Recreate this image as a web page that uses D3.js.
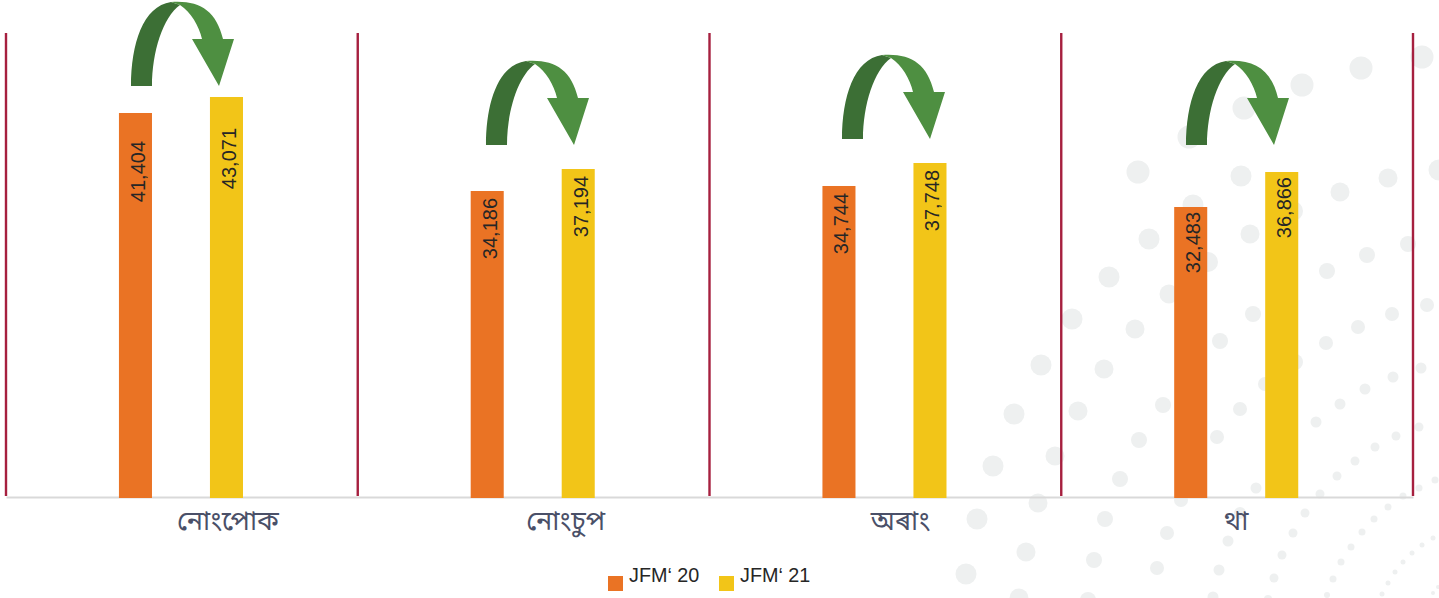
<!DOCTYPE html>
<html>
<head>
<meta charset="utf-8">
<script src="https://cdn.jsdelivr.net/npm/d3@7"></script>
<style>
  html, body { margin: 0; padding: 0; background: #fff; overflow: hidden; }
  svg { display: block; }
  .value { font-family: "Liberation Sans", Arial, sans-serif; font-size: 20px; fill: #262626; }
  .legend-label { font-family: "Liberation Sans", Arial, sans-serif; font-size: 19.8px; fill: #262626; }
  .cat text { font-family: "Noto Sans Bengali", "Noto Sans", "Lato", "DejaVu Sans", sans-serif; font-size: 27px; fill: #4a5068; }
</style>
</head>
<body>
<script>
// chart values
const categories = ["নোংপোক", "নোংচুপ", "অৰাং", "থা"]
const seriesNames = ["JFM‘ 20", "JFM‘ 21"]
const jfm20 = [41404, 34186, 34744, 32483]
const jfm21 = [43071, 37194, 37748, 36866]
const seriesValues = [jfm20, jfm21]
const seriesColors = ["#ea7324", "#f2c518"]

// every panel of the original has its own hidden value axis
const axisMin = [1404, -7652, -5878, -3835]
const axisMax = [49737, 55788, 54728, 54274]

// the labels were placed by hand in the original, off the panel centre
const labelShift = [46, 32, 15, -1]

// value label distance below the bar top
const labelGap = [[28, 7, 7, 5], [31, 7, 7, 5]]

// arrow top left corners
const arrowX = [131, 486, 842, 1186]
const arrowY = [2, 61, 55, 61]

// background decoration: x, y, r
const dots = [
  [1361,68,11.5],[1422,57,11.5],[1302,85,11.5],[1244,108,11.5],[1189,137,11.5],[1138,172,11.5],
  [1241,176,10.5],[1388,178,9.5],[1340,192,9.5],[1439,170,10.5],[1193,205,10.5],[1149,239,10.5],
  [1250,234,9.5],[1293,211,10],[1408,244,8],[1367,255,8],[1327,271,8],[1208,262,10],[1109,277,10.5],
  [1169,294,9.5],[1427,305,7],[1392,314,7],[1358,327,7],[1253,314,8],[1072,319,10.5],[1135,329,9.5],
  [1220,341,8],[1326,343,7],[1041,365,10.5],[1104,369,9.5],[1421,368,5.5],[1393,377,5.5],[1365,389,5.5],
  [1295,362,8],[1265,384,7],[1340,404,5.5],[1014,414,10.5],[1078,411,9.5],[1163,405,8],[1240,409,7],
  [1316,422,5.5],[1419,427,4.5],[1396,436,4.5],[1375,447,4.5],[1217,437,7],[1139,440,8],[1355,461,4.5],
  [1337,476,4.5],[993,466,10.5],[1055,456,9.5],[1120,479,8],[1256,488,5.5],[1419,488,3.5],[1435,480,3.5],
  [1320,494,4.5],[1403,496,3.5],[1388,507,3.5],[1181,500,7],[1038,503,9.5],[977,519,10.5],[1105,519,8],
  [1305,513,4.5],[1374,519,3.5],[1240,513,6],[1362,532,3.5],[1293,533,4.5],[1167,533,7],[1351,547,3.5],
  [1433,538,2.5],[1422,545,2.5],[1228,541,5.5],[1412,553,2.5],[1282,555,4.5],[1026,552,9.5],[1094,560,8],
  [1341,562,3.5],[1403,562,2.5],[1157,568,7],[1219,570,5.5],[966,574,10.5],[1395,572,2.5],[1274,578,4.5],
  [1333,579,3.5],[1388,583,2.5],[1438,587,2],[1382,594,2.5],[1433,593,2],[1327,595,3],[1213,597,5.5],
  [1268,599,4],[1088,600,8],[1019,598,9.5]
]

const svgWidth = 1439
const svgHeight = 598
const plotTop = 33
const plotBottom = 497
const plotLeft = 6
const plotRight = 1413

const svg = d3.select("body").append("svg")
  .attr("width", svgWidth)
  .attr("height", svgHeight)

svg.append("g").selectAll("circle")
  .data(dots)
  .enter().append("circle")
  .attr("cx", d => d[0])
  .attr("cy", d => d[1])
  .attr("r", d => d[2])
  .attr("fill", "#eef0f0")

// scales
const x0 = d3.scaleBand()
  .domain(categories)
  .range([plotLeft, plotRight])

const x1 = d3.scaleBand()
  .domain(seriesNames)
  .range([0, x0.bandwidth()])
  .paddingInner(0.637)
  .paddingOuter(1.251)
  .align(0.496)

const yScales = categories.map((c, i) => d3.scaleLinear()
  .domain([axisMin[i], axisMax[i]])
  .range([plotBottom, plotTop]))

// category axis
const xAxis = d3.axisBottom(x0).tickSize(0).tickPadding(14)

const axisG = svg.append("g")
  .attr("class", "cat")
  .attr("transform", "translate(0," + plotBottom + ")")
  .call(xAxis)

axisG.select(".domain").attr("stroke", "#d9d9d9").attr("stroke-width", 2)
axisG.selectAll("text").attr("dx", (d, i) => labelShift[i])

// panel separators
svg.append("g").selectAll("line")
  .data(d3.range(categories.length + 1))
  .enter().append("line")
  .attr("x1", d => plotLeft + d * x0.step())
  .attr("x2", d => plotLeft + d * x0.step())
  .attr("y1", plotTop)
  .attr("y2", plotBottom - 1)
  .attr("stroke", "#a6203f")
  .attr("stroke-width", 2.4)

// bars
const groups = svg.append("g").selectAll("g")
  .data(categories)
  .enter().append("g")
  .attr("transform", d => "translate(" + x0(d) + ",0)")

groups.each(function(cat, i) {
  const g = d3.select(this)
  const rows = seriesNames.map((name, j) => ({ name: name, value: seriesValues[j][i], color: seriesColors[j], gap: labelGap[j][i] }))

  g.selectAll("rect")
    .data(rows)
    .enter().append("rect")
    .attr("x", d => x1(d.name))
    .attr("y", d => yScales[i](d.value))
    .attr("width", x1.bandwidth())
    .attr("height", d => plotBottom - yScales[i](d.value) + 1)
    .attr("fill", d => d.color)

  g.selectAll("text")
    .data(rows)
    .enter().append("text")
    .attr("class", "value")
    .attr("text-anchor", "end")
    .attr("dy", "0.35em")
    .attr("transform", d => "translate(" + (x1(d.name) + x1.bandwidth() / 2 + 2.5) + "," + (yScales[i](d.value) + d.gap) + ") rotate(-90)")
    .text(d => d3.format(",")(d.value))
})

// curved arrows, two pieces each
const arrows = svg.append("g").selectAll("g")
  .data(arrowX)
  .enter().append("g")
  .attr("transform", (d, i) => "translate(" + d + "," + arrowY[i] + ")")

arrows.append("path")
  .attr("d", "M0,84 C0,42 12,4 40,0 L49,3 C32,15 21,50 21,84 Z")
  .attr("fill", "#3c6f35")

arrows.append("path")
  .attr("d", "M40,0 C68,-2 85,8 92,37 L103,37 L88,84 L61,37 L71,37 C68,24 60,10 49,3 Z")
  .attr("fill", "#4e8f41")

// legend
const legendX = d3.scalePoint().domain(seriesNames).range([608, 719])

const legend = svg.append("g").selectAll("g")
  .data(seriesNames)
  .enter().append("g")
  .attr("transform", d => "translate(" + legendX(d) + ",576)")

legend.append("rect")
  .attr("width", 15)
  .attr("height", 15)
  .attr("fill", (d, i) => seriesColors[i])

legend.append("text")
  .attr("class", "legend-label")
  .attr("x", 21)
  .attr("y", 6)
  .text(d => d)
</script>
</body>
</html>
